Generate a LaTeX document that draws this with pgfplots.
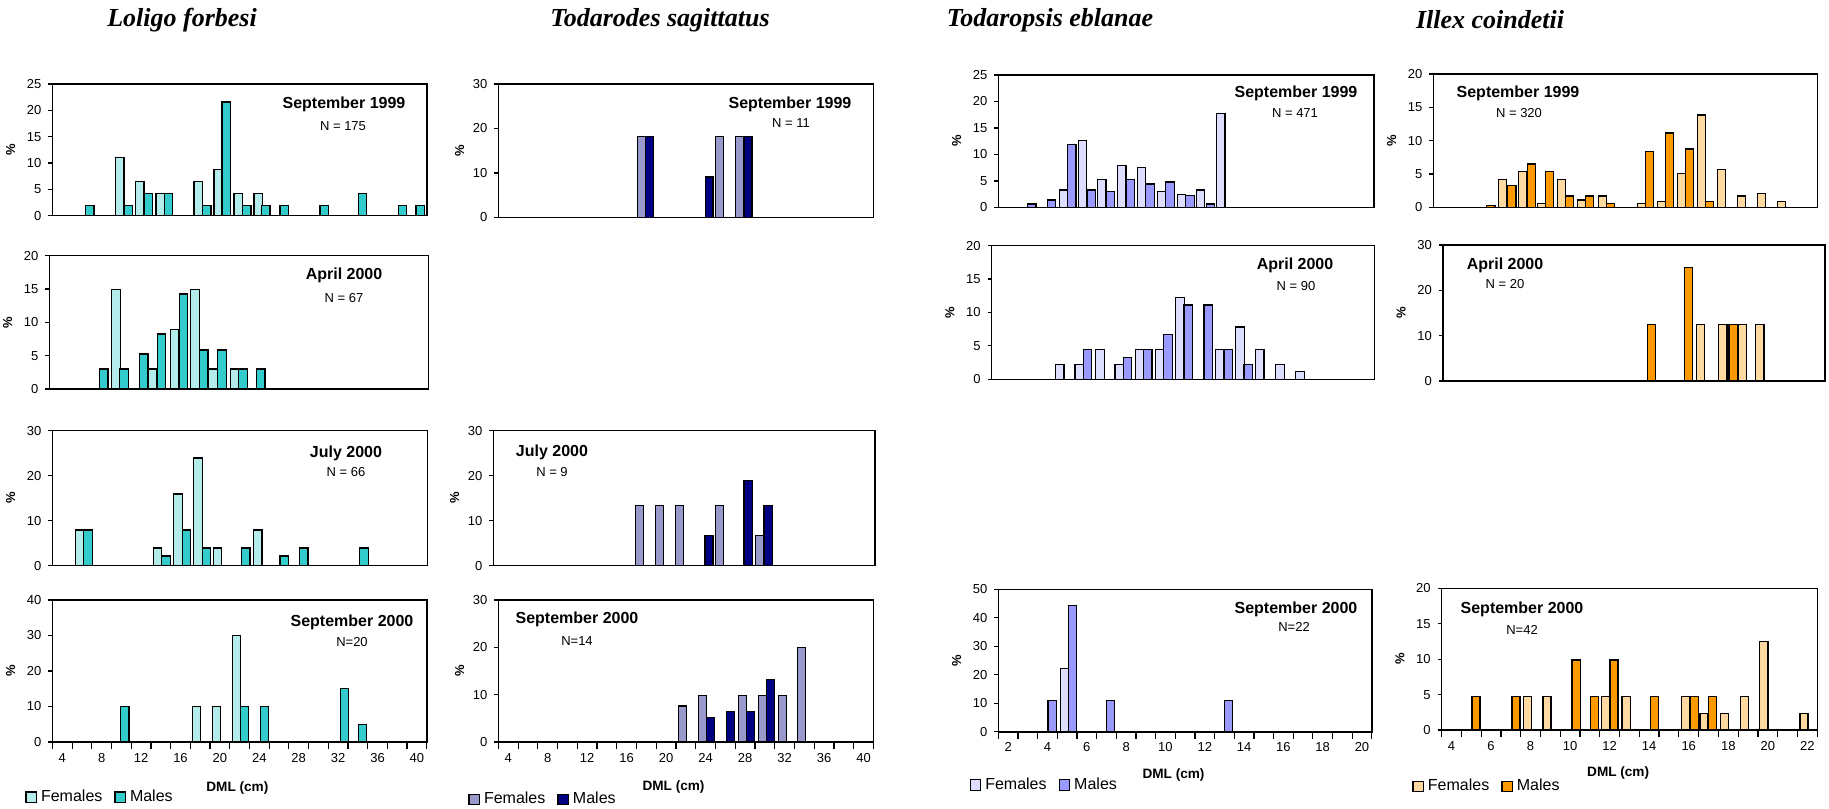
\documentclass[border=0pt]{standalone}
\usepackage{fontspec}
\setmainfont{Liberation Sans}
\newfontfamily\titlefont{Liberation Serif}
\usepackage{pgfplots}
\pgfplotsset{compat=1.18}

\definecolor{lolF}{RGB}{180,236,236}
\definecolor{lolM}{RGB}{51,204,204}
\definecolor{todF}{RGB}{153,153,204}
\definecolor{todM}{RGB}{0,0,128}
\definecolor{tpsF}{RGB}{221,221,255}
\definecolor{tpsM}{RGB}{153,153,255}
\definecolor{illF}{RGB}{255,218,160}
\definecolor{illM}{RGB}{255,153,0}

\pgfplotsset{
  panel/.style={scale only axis, anchor=north west, enlargelimits=false, ymin=0,
    axis line style={line width=0.7pt}, tick align=outside, tick pos=left,
    xtick=\empty, major tick length=2pt, minor tick length=3.5pt,
    every tick/.style={black, line width=0.6pt},
    tick label style={font=\fontsize{6.5}{8}\selectfont},
    /pgf/number format/assume math mode=true,
    ylabel={\%}, ylabel style={font=\bfseries\fontsize{6.5}{7}\selectfont, yshift=-1pt}},
  sq legend/.style={legend image code/.code={\draw[##1,line width=0.6pt] (0pt,-2.6pt) rectangle (5.2pt,2.6pt);}},
  bars/.style={ybar, bar shift=0pt, bar width=#1, draw=black, line width=0.6pt, sq legend},
  bottom/.style={major x tick style={draw=none},
    xlabel={DML (cm)}, xlabel style={font=\bfseries\fontsize{6.8}{8}\selectfont, anchor=center},
    legend columns=2,
    legend style={draw=none, fill=none, anchor=west, inner sep=0pt,
      font=\fontsize{8}{9}\selectfont,
      /tikz/every even column/.append style={column sep=4pt}},
    },
}

\begin{document}
\begin{tikzpicture}
\path[use as bounding box] (0pt,0pt) rectangle (914.5pt,-404pt);

% ================= Loligo forbesi =================
\begin{axis}[panel, at={(26.2pt,-42pt)}, width=187.2pt, height=65.9pt,
  xmin=3, xmax=41, ymax=25, ytick={0,5,...,25}]
\addplot[bars=0.85, fill=lolF] coordinates {(9.84,11.0) (11.87,6.45) (13.93,4.2) (17.79,6.45) (19.82,8.8) (21.85,4.2) (23.88,4.2)};
\addplot[bars=0.85, fill=lolM] coordinates {(6.79,1.9) (10.72,1.9) (12.75,4.2) (14.78,4.2) (18.67,1.9) (20.63,21.6) (22.73,1.9) (24.66,1.9) (26.52,1.9) (30.58,1.9) (34.47,4.2) (38.53,1.9) (40.33,1.9)};
\end{axis}

\begin{axis}[panel, at={(24.7pt,-127.8pt)}, width=189.5pt, height=66.7pt,
  xmin=3, xmax=41, ymax=20, ytick={0,5,...,20}]
\addplot[bars=0.85, fill=lolF] coordinates {(9.68,14.9) (13.33,3.0) (15.53,8.95) (17.6,14.9) (19.4,3.0) (21.6,3.0)};
\addplot[bars=0.85, fill=lolM] coordinates {(8.45,3.0) (10.49,3.0) (12.46,5.25) (14.23,8.25) (16.43,14.25) (18.47,5.85) (20.3,5.85) (22.4,3.0) (24.2,3.0)};
\end{axis}

\begin{axis}[panel, at={(26.2pt,-215.3pt)}, width=187.5pt, height=67.5pt,
  xmin=3, xmax=41, ymax=30, ytick={0,10,20,30}]
\addplot[bars=0.85, fill=lolF] coordinates {(5.74,7.9) (13.67,3.9) (15.73,15.9) (17.76,23.9) (19.75,3.9) (23.81,7.9)};
\addplot[bars=0.85, fill=lolM] coordinates {(6.61,7.9) (14.52,2.15) (16.58,7.9) (18.6,3.9) (22.59,3.9) (26.48,2.15) (28.47,3.9) (34.58,3.9)};
\end{axis}

\begin{axis}[panel, bottom, at={(26.2pt,-300pt)}, width=187.2pt, height=71pt,
  xmin=3, xmax=41, ymax=40, ytick={0,10,...,40},
  xtick={4,8,...,40}, minor xtick={3,5,...,41},
  xlabel style={at={(0.494,-0.324)}},
  legend style={at={(-0.073,-0.389)}}]
\addplot[bars=0.85, fill=lolF] coordinates {(17.62,10) (19.65,10) (21.68,30)};
\addplot[bars=0.85, fill=lolM] coordinates {(10.34,10) (22.49,10) (24.52,10) (32.64,15) (34.47,5)};
\legend{Females, Males}
\end{axis}

% ================= Todarodes sagittatus =================
\begin{axis}[panel, at={(249.2pt,-42pt)}, width=187.5pt, height=66.7pt,
  xmin=3, xmax=41, ymax=30, ytick={0,10,20,30}, ylabel style={yshift=-1.5pt}]
\addplot[bars=0.81, fill=todF] coordinates {(17.53,18.18) (25.43,18.18) (27.46,18.18)};
\addplot[bars=0.81, fill=todM] coordinates {(18.34,18.18) (24.35,9.09) (28.3,18.18)};
\end{axis}

\begin{axis}[panel, at={(246.7pt,-215.3pt)}, width=190.8pt, height=67.5pt,
  xmin=3, xmax=41, ymax=30, ytick={0,10,20,30}, ylabel style={yshift=-1.5pt}]
\addplot[bars=0.81, fill=todF] coordinates {(17.57,13.3) (19.56,13.3) (21.55,13.3) (25.54,13.3) (29.49,6.67)};
\addplot[bars=0.81, fill=todM] coordinates {(24.47,6.67) (28.36,19.0) (30.35,13.3)};
\end{axis}

\begin{axis}[panel, bottom, at={(249.2pt,-300pt)}, width=187.5pt, height=71pt,
  xmin=3, xmax=41, ymax=30, ytick={0,10,20,30}, ylabel style={yshift=-1.5pt},
  xtick={4,8,...,40}, minor xtick={3,5,...,41},
  xlabel style={at={(0.467,-0.315)}},
  legend style={at={(-0.081,-0.404)}}]
\addplot[bars=0.81, fill=todF] coordinates {(21.68,7.6) (23.67,9.8) (27.73,9.8) (29.75,9.8) (31.78,9.8) (33.74,19.9)};
\addplot[bars=0.81, fill=todM] coordinates {(24.48,5.1) (26.54,6.4) (28.57,6.4) (30.56,13.2)};
\legend{Females, Males}
\end{axis}

% ================= Todaropsis eblanae =================
\begin{axis}[panel, at={(499.2pt,-37.5pt)}, width=187.8pt, height=66.2pt,
  xmin=1.5, xmax=20.5, ymax=25, ytick={0,5,...,25}]
\addplot[bars=0.42, fill=tpsF] coordinates {(4.79,3.3) (5.75,12.7) (6.73,5.2) (7.74,7.85) (8.75,7.5) (9.76,2.95) (10.77,2.5) (11.72,3.3) (12.75,17.7)};
\addplot[bars=0.42, fill=tpsM] coordinates {(3.19,0.63) (4.18,1.4) (5.21,11.9) (6.22,3.3) (7.15,2.95) (8.16,5.2) (9.17,4.4) (10.18,4.8) (11.19,2.2) (12.22,0.63)};
\end{axis}

\begin{axis}[panel, at={(495.8pt,-122.8pt)}, width=191.3pt, height=66.8pt,
  xmin=1.5, xmax=20.5, ymax=20, ytick={0,5,...,20}]
\addplot[bars=0.42, fill=tpsF] coordinates {(4.88,2.2) (5.85,2.2) (6.88,4.45) (7.84,2.2) (8.86,4.45) (9.86,4.45) (10.85,12.2) (12.84,4.45) (13.83,7.8) (14.82,4.45) (15.82,2.2) (16.81,1.1)};
\addplot[bars=0.42, fill=tpsM] coordinates {(6.27,4.45) (8.24,3.3) (9.25,4.45) (10.26,6.67) (11.26,11.1) (12.26,11.1) (13.25,4.45) (14.24,2.2)};
\end{axis}

\begin{axis}[panel, bottom, at={(499.2pt,-294.7pt)}, width=186.7pt, height=71.2pt,
  xmin=1.5, xmax=20.5, ymax=50, ytick={0,10,...,50},
  xtick={2,4,...,20}, minor xtick={1.5,2.5,...,20.5},
  xlabel style={at={(0.469,-0.304)}},
  legend style={at={(-0.078,-0.374)}}]
\addplot[bars=0.42, fill=tpsF] coordinates {(4.86,22.2)};
\addplot[bars=0.42, fill=tpsM] coordinates {(4.23,11.1) (5.27,44.4) (7.2,11.1) (13.2,11.1)};
\legend{Females, Males}
\end{axis}

% ================= Illex coindetii =================
\begin{axis}[panel, at={(716.7pt,-37pt)}, width=192pt, height=66.7pt,
  xmin=3.5, xmax=22.5, ymax=20, ytick={0,5,...,20}]
\addplot[bars=0.41, fill=illF] coordinates {(6.91,4.15) (7.9,5.35) (8.84,0.55) (9.83,4.15) (10.82,1.1) (11.86,1.7) (13.79,0.55) (14.78,0.85) (15.77,5.05) (16.76,13.85) (17.75,5.7) (18.74,1.7) (19.73,2.05) (20.72,0.85)};
\addplot[bars=0.41, fill=illM] coordinates {(6.34,0.25) (7.38,3.25) (8.35,6.5) (9.25,5.35) (10.24,1.7) (11.23,1.7) (12.27,0.55) (14.2,8.4) (15.19,11.15) (16.18,8.75) (17.17,0.85)};
\end{axis}

\begin{axis}[panel, at={(721.5pt,-122.5pt)}, width=191pt, height=68pt,
  xmin=3.5, xmax=22.5, ymax=30, ytick={0,10,20,30}]
\addplot[bars=0.41, fill=illF] coordinates {(16.3,12.5) (17.42,12.5) (18.39,12.5) (19.26,12.5)};
\addplot[bars=0.41, fill=illM] coordinates {(13.87,12.5) (15.72,25) (17.93,12.5)};
\end{axis}

\begin{axis}[panel, bottom, at={(720.8pt,-294.2pt)}, width=187.8pt, height=70.8pt,
  xmin=3.5, xmax=22.5, ymax=20, ytick={0,5,...,20},
  xtick={4,6,...,22}, minor xtick={3.5,4.5,...,22.5},
  xlabel style={at={(0.47,-0.306)}},
  legend style={at={(-0.079,-0.40)}}]
\addplot[bars=0.41, fill=illF] coordinates {(7.83,4.76) (8.83,4.76) (11.81,4.76) (12.83,4.76) (15.83,4.76) (16.77,2.38) (17.8,2.38) (18.81,4.76) (19.8,12.5) (21.83,2.38)};
\addplot[bars=0.41, fill=illM] coordinates {(5.24,4.76) (7.26,4.76) (10.3,9.9) (11.22,4.76) (12.22,9.9) (14.26,4.76) (16.27,4.76) (17.19,4.76)};
\legend{Females, Males}
\end{axis}

% ================= Texts =================
\begin{scope}[x=0.5pt, y=-0.5pt]
\tikzset{ttl/.style={font=\titlefont\bfseries\itshape\fontsize{13}{15}\selectfont},
  lab/.style={font=\bfseries\fontsize{8}{9}\selectfont},
  nn/.style={font=\fontsize{6.5}{8}\selectfont}}
\node[ttl] at (182,20) {Loligo forbesi};
\node[ttl] at (660,20) {Todarodes sagittatus};
\node[ttl] at (1050,20) {Todaropsis eblanae};
\node[ttl] at (1490,20) {Illex coindetii};

\node[lab] at (344,104) {September 1999};  \node[nn] at (343,126) {N = 175};
\node[lab] at (344,275) {April 2000};      \node[nn] at (344,298) {N = 67};
\node[lab] at (346,453) {July 2000};       \node[nn] at (346,472) {N = 66};
\node[lab] at (352,622) {September 2000};  \node[nn] at (352,642) {N=20};

\node[lab] at (790,104) {September 1999};  \node[nn] at (791,123) {N = 11};
\node[lab] at (552,452) {July 2000};       \node[nn] at (552,472) {N = 9};
\node[lab] at (577,619) {September 2000};  \node[nn] at (577,641) {N=14};

\node[lab] at (1296,93) {September 1999};  \node[nn] at (1295,113) {N = 471};
\node[lab] at (1295,265) {April 2000};     \node[nn] at (1296,286) {N = 90};
\node[lab] at (1296,609) {September 2000}; \node[nn] at (1294,627) {N=22};

\node[lab] at (1518,93) {September 1999};  \node[nn] at (1519,113) {N = 320};
\node[lab] at (1505,265) {April 2000};     \node[nn] at (1505,284) {N = 20};
\node[lab] at (1522,609) {September 2000}; \node[nn] at (1522,630) {N=42};
\end{scope}
\end{tikzpicture}
\end{document}
